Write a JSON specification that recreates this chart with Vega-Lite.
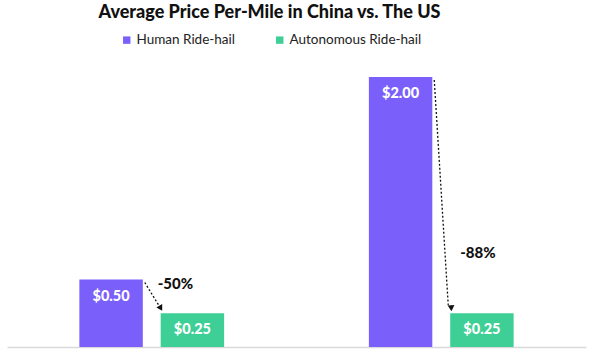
{
  "$schema": "https://vega.github.io/schema/vega-lite/v6.json",
  "autosize": {"type": "fit", "contains": "padding"},
  "width": 600,
  "height": 357,
  "padding": {"left": 7, "right": 14, "top": 4, "bottom": 10},
  "background": "white",
  "title": {
    "text": "Average Price Per-Mile in China vs. The US",
    "font": "Lato",
    "fontSize": 18,
    "fontWeight": 900,
    "color": "#111111",
    "anchor": "middle",
    "frame": "group",
    "dx": -27,
    "offset": 28
  },
  "datasets": {
    "bars": [
      {"country": "China", "type": "Human Ride-hail", "price": 0.5, "label": "$0.50"},
      {"country": "China", "type": "Autonomous Ride-hail", "price": 0.25, "label": "$0.25"},
      {"country": "US", "type": "Human Ride-hail", "price": 2.0, "label": "$2.00"},
      {"country": "US", "type": "Autonomous Ride-hail", "price": 0.25, "label": "$0.25"}
    ],
    "arrows": [
      {"country": "China", "from": 0.5, "to": 0.25, "change": "-50%", "label_at": 0.47},
      {"country": "US", "from": 2.0, "to": 0.25, "change": "-88%", "label_at": 0.7}
    ]
  },
  "layer": [
    {
      "data": {"name": "bars"},
      "mark": {"type": "bar"},
      "encoding": {
        "x": {"field": "country", "type": "nominal", "sort": ["China", "US"],
              "scale": {"paddingInner": 0.5, "paddingOuter": 0.25},
              "axis": {"labels": false, "ticks": false, "title": null, "domainColor": "#d9d9d9", "domainWidth": 1.5, "minExtent": 0, "maxExtent": 0}},
        "xOffset": {"field": "type", "type": "nominal", "sort": ["Human Ride-hail", "Autonomous Ride-hail"],
                    "scale": {"paddingInner": 0.22, "paddingOuter": 0}},
        "y": {"field": "price", "type": "quantitative", "scale": {"domain": [0, 2.2], "nice": false}, "axis": null},
        "color": {"field": "type", "type": "nominal",
                  "scale": {"domain": ["Human Ride-hail", "Autonomous Ride-hail"], "range": ["#7A5FFB", "#3ECF96"]},
                  "legend": {"title": null, "orient": "none", "legendX": 113, "legendY": -17, "direction": "horizontal",
                             "columns": 2, "columnPadding": 38, "symbolType": "square", "symbolSize": 55, "symbolStrokeWidth": 0,
                             "labelFont": "Lato", "labelFontSize": 13.5, "labelColor": "#222222", "symbolOffset": 0, "labelOffset": 3}}
      }
    },
    {
      "data": {"name": "bars"},
      "mark": {"type": "text", "color": "white", "font": "Lato", "fontWeight": 900, "fontSize": 14.5, "dy": 17, "baseline": "middle"},
      "encoding": {
        "x": {"field": "country", "type": "nominal", "sort": ["China", "US"]},
        "xOffset": {"field": "type", "type": "nominal", "sort": ["Human Ride-hail", "Autonomous Ride-hail"]},
        "y": {"field": "price", "type": "quantitative"},
        "text": {"field": "label"}
      }
    },
    {
      "data": {"name": "arrows"},
      "mark": {"type": "rule", "color": "#111111", "strokeWidth": 1.3, "strokeDash": [2, 2], "xOffset": -7, "x2Offset": 7, "yOffset": 3, "y2Offset": -8},
      "encoding": {
        "x": {"field": "country", "type": "nominal", "sort": ["China", "US"]},
        "x2": {"field": "country"},
        "y": {"field": "from", "type": "quantitative"},
        "y2": {"field": "to"}
      }
    },
    {
      "data": {"name": "arrows"},
      "transform": [{"filter": "datum.country === 'China'"}],
      "mark": {"type": "point", "shape": "triangle-down", "filled": true, "color": "#111111", "opacity": 1, "size": 45, "angle": -30, "xOffset": 9, "yOffset": -5},
      "encoding": {
        "x": {"field": "country", "type": "nominal", "sort": ["China", "US"]},
        "y": {"field": "to", "type": "quantitative"}
      }
    },
    {
      "data": {"name": "arrows"},
      "transform": [{"filter": "datum.country === 'US'"}],
      "mark": {"type": "point", "shape": "triangle-down", "filled": true, "color": "#111111", "opacity": 1, "size": 45, "angle": -4, "xOffset": 10, "yOffset": -5},
      "encoding": {
        "x": {"field": "country", "type": "nominal", "sort": ["China", "US"]},
        "y": {"field": "to", "type": "quantitative"}
      }
    },
    {
      "data": {"name": "arrows"},
      "transform": [{"filter": "datum.country === 'China'"}],
      "mark": {"type": "text", "color": "#111111", "font": "Lato", "fontWeight": 900, "fontSize": 15, "align": "left", "baseline": "middle", "dx": 6},
      "encoding": {
        "x": {"field": "country", "type": "nominal", "sort": ["China", "US"]},
        "y": {"field": "label_at", "type": "quantitative"},
        "text": {"field": "change"}
      }
    },
    {
      "data": {"name": "arrows"},
      "transform": [{"filter": "datum.country === 'US'"}],
      "mark": {"type": "text", "color": "#111111", "font": "Lato", "fontWeight": 900, "fontSize": 15, "align": "left", "baseline": "middle", "dx": 19},
      "encoding": {
        "x": {"field": "country", "type": "nominal", "sort": ["China", "US"]},
        "y": {"field": "label_at", "type": "quantitative"},
        "text": {"field": "change"}
      }
    }
  ],
  "config": {
    "view": {"stroke": null},
    "axis": {"grid": false}
  }
}
